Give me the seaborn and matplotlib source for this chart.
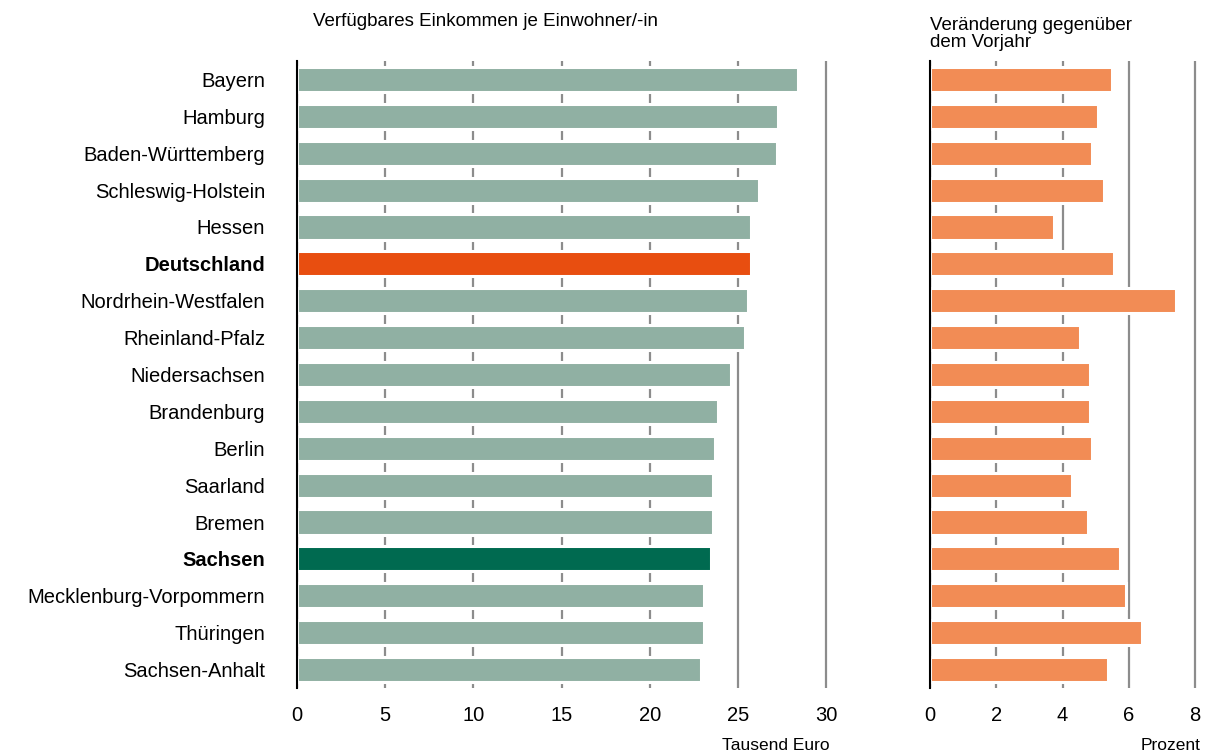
import matplotlib
matplotlib.use("Agg")
import matplotlib.pyplot as plt
import seaborn as sns
import pandas as pd

laender = ["Bayern", "Hamburg", "Baden-Württemberg", "Schleswig-Holstein", "Hessen",
           "Deutschland", "Nordrhein-Westfalen", "Rheinland-Pfalz", "Niedersachsen",
           "Brandenburg", "Berlin", "Saarland", "Bremen", "Sachsen",
           "Mecklenburg-Vorpommern", "Thüringen", "Sachsen-Anhalt"]
einkommen = [28.4, 27.3, 27.2, 26.2, 25.75, 25.75, 25.6, 25.4, 24.6,
             23.9, 23.7, 23.6, 23.6, 23.5, 23.1, 23.1, 22.9]
veraenderung = [5.5, 5.08, 4.9, 5.26, 3.75, 5.56, 7.43, 4.53, 4.83,
                4.83, 4.9, 4.29, 4.77, 5.74, 5.92, 6.4, 5.38]
left_ticks = [0, 5, 10, 15, 20, 25, 30]
right_ticks = [0, 2, 4, 6, 8]
bold_labels = ["Deutschland", "Sachsen"]

df = pd.DataFrame({"Land": laender, "Einkommen": einkommen, "Veraenderung": veraenderung})

sns.set_style("white")
plt.rcParams["font.family"] = ["Liberation Sans", "DejaVu Sans"]
plt.rcParams["text.color"] = "black"
plt.rcParams["xtick.color"] = "black"
plt.rcParams["ytick.color"] = "black"

W, H = 1211, 756
fig = plt.figure(figsize=(W / 100, H / 100), dpi=100)

def px_axes(x0, x1, y0, y1):
    return fig.add_axes([x0 / W, 1 - y1 / H, (x1 - x0) / W, (y1 - y0) / H])

grey_green = "#90b0a3"
col_de = "#e84e10"
col_sn = "#006a50"
orange = "#f28c55"
pal_left = {l: (col_de if l == "Deutschland" else col_sn if l == "Sachsen" else grey_green) for l in laender}

axL = px_axes(297, 297 + 529 * 30.2 / 30, 61, 688)
axR = px_axes(930, 930 + 33.125 * 8.1, 61, 688)

sns.barplot(data=df, x="Einkommen", y="Land", hue="Land", palette=pal_left, legend=False,
            width=0.68, edgecolor="white", linewidth=2.2, saturation=1, ax=axL)
sns.barplot(data=df, x="Veraenderung", y="Land", color=orange, legend=False,
            width=0.68, edgecolor="white", linewidth=2.2, saturation=1, ax=axR)

for ax, lim, ticks in [(axL, 30.2, left_ticks), (axR, 8.1, right_ticks)]:
    ax.set_xlim(0, lim)
    ax.set_ylim(len(laender) - 0.5, -0.5)
    ax.set_xticks(ticks)
    ax.set_xticklabels([str(t) for t in ticks], fontsize=14.5, color="black")
    ax.set_xlabel("")
    ax.set_ylabel("")
    ax.set_axisbelow(True)
    ax.xaxis.grid(True, color="#8c8c8c", linewidth=1.6)
    ax.yaxis.grid(False)
    for s in ["top", "right", "bottom"]:
        ax.spines[s].set_visible(False)
    ax.spines["left"].set_color("black")
    ax.spines["left"].set_linewidth(1.5)
    ax.tick_params(axis="both", length=0)
    ax.tick_params(axis="x", pad=13)
    ax.set_facecolor("none")

axL.tick_params(axis="y", pad=23, labelsize=14.5, labelcolor="black")
for lab in axL.get_yticklabels():
    if lab.get_text() in bold_labels:
        lab.set_fontweight("bold")
axR.set_yticklabels([])

fig.text(313 / W, 1 - 22 / H, "Verfügbares Einkommen je Einwohner/-in", fontsize=13.5,
         ha="left", va="center")
fig.text(930 / W, 1 - 34 / H, "Veränderung gegenüber\ndem Vorjahr", fontsize=13.5,
         ha="left", va="center", linespacing=1.05)
fig.text(830 / W, 1 - 745 / H, "Tausend Euro", fontsize=12.5, ha="right", va="center")
fig.text(1200 / W, 1 - 745 / H, "Prozent", fontsize=12.5, ha="right", va="center")

fig.savefig("out.png", dpi=100)
